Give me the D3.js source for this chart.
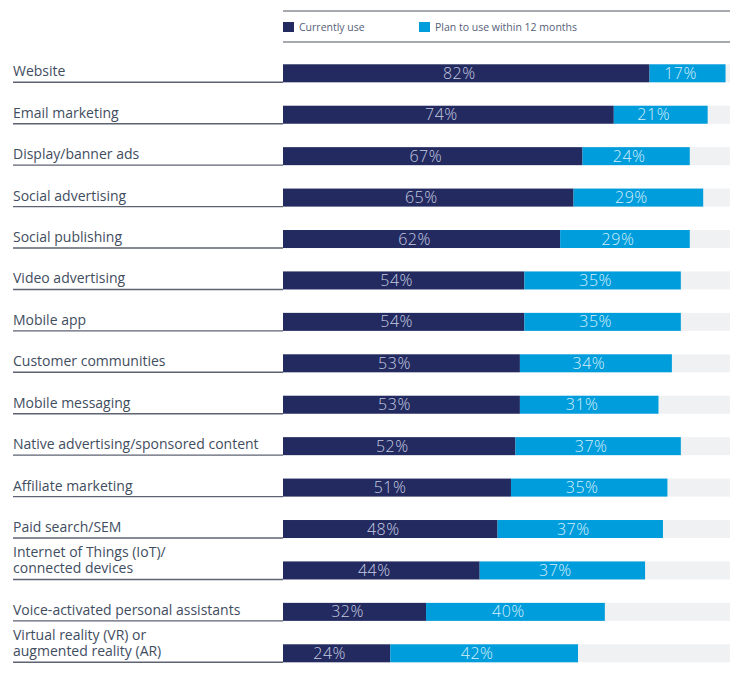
<!DOCTYPE html>
<html>
<head>
<meta charset="utf-8">
<script src="https://cdn.jsdelivr.net/npm/d3@7"></script>
<style>
  body { margin: 0; background: #fff; }
  svg { display: block; font-family: "Open Sans", sans-serif; }
</style>
</head>
<body>
<div id="chart"></div>
<script>
// 항목 이름 (줄바꿈은 배열로)
const categories = [
    ['Website'],
    ['Email marketing'],
    ['Display/banner ads'],
    ['Social advertising'],
    ['Social publishing'],
    ['Video advertising'],
    ['Mobile app'],
    ['Customer communities'],
    ['Mobile messaging'],
    ['Native advertising/sponsored content'],
    ['Affiliate marketing'],
    ['Paid search/SEM'],
    ['Internet of Things (IoT)/', 'connected devices'],
    ['Voice-activated personal assistants'],
    ['Virtual reality (VR) or', 'augmented reality (AR)']
];
const currentlyUse = [82, 74, 67, 65, 62, 54, 54, 53, 53, 52, 51, 48, 44, 32, 24];
const planToUse = [17, 21, 24, 29, 29, 35, 35, 34, 31, 37, 35, 37, 37, 40, 42];
const seriesNames = ['Currently use', 'Plan to use within 12 months'];

const width = 750, height = 683;
const navy = '#232a5f', blue = '#009ddc', track = '#f0f1f3';
const labelColor = '#3f4d60', ruleColor = '#5d6372';

const svg = d3.select('#chart').append('svg')
    .attr('width', width)
    .attr('height', height);

// x: 0~100% -> 막대 영역
const x = d3.scaleLinear().domain([0, 100]).range([283, 730]);
// y: 각 행의 밑줄(막대 아래쪽) 위치
const keys = categories.map((d, i) => i);
const y = d3.scalePoint().domain(keys).range([82.3, 662.3]);
const barH = 18;

// 범례
svg.append('line').attr('x1', 283).attr('x2', 730).attr('y1', 11).attr('y2', 11)
    .attr('stroke', '#8a8d96').attr('stroke-width', 1.3);
svg.append('line').attr('x1', 283).attr('x2', 730).attr('y1', 42).attr('y2', 42)
    .attr('stroke', '#8a8d96').attr('stroke-width', 1.3);
const legendX = [283, 419];
seriesNames.forEach((name, i) => {
    const g = svg.append('g').attr('transform', `translate(${legendX[i]},22)`);
    g.append('rect').attr('width', 11).attr('height', 10).attr('fill', i ? blue : navy);
    g.append('text').attr('x', 16).attr('y', 8.5)
        .attr('font-size', 10.5).attr('fill', '#56607a').text(name);
});

const rows = svg.selectAll('.row')
    .data(keys)
    .join('g')
    .attr('class', 'row')
    .attr('transform', i => `translate(0,${y(i)})`);

// 밑줄
rows.append('line')
    .attr('x1', 13).attr('x2', 283)
    .attr('stroke', ruleColor).attr('stroke-width', 1.4);

// 라벨
rows.append('text')
    .attr('x', 13)
    .attr('font-size', 14)
    .attr('fill', labelColor)
    .each(function(i) {
        const lines = categories[i];
        const t = d3.select(this);
        lines.forEach((line, k) => {
            t.append('tspan')
                .attr('x', 13)
                .attr('y', -6 - (lines.length - 1 - k) * 16)
                .text(line);
        });
    });

// 배경 트랙
rows.append('rect')
    .attr('x', x(0)).attr('y', -barH)
    .attr('width', x(100) - x(0)).attr('height', barH)
    .attr('fill', track);

// 현재 사용
rows.append('rect')
    .attr('x', x(0)).attr('y', -barH)
    .attr('width', i => x(currentlyUse[i]) - x(0)).attr('height', barH)
    .attr('fill', navy);

// 12개월 내 계획
rows.append('rect')
    .attr('x', i => x(currentlyUse[i])).attr('y', -barH)
    .attr('width', i => x(currentlyUse[i] + planToUse[i]) - x(currentlyUse[i])).attr('height', barH)
    .attr('fill', blue);

// 값 라벨
rows.append('text')
    .attr('x', i => (x(0) + x(currentlyUse[i])) / 2 - 7)
    .attr('y', -barH / 2 + 5.5)
    .attr('text-anchor', 'middle')
    .attr('font-size', 16)
    .attr('font-weight', 300)
    .attr('letter-spacing', 0.5)
    .attr('fill', '#c5cbe0')
    .text(i => currentlyUse[i] + '%');

rows.append('text')
    .attr('x', i => (x(currentlyUse[i]) + x(currentlyUse[i] + planToUse[i])) / 2 - 7)
    .attr('y', -barH / 2 + 5.5)
    .attr('text-anchor', 'middle')
    .attr('font-size', 16)
    .attr('font-weight', 300)
    .attr('letter-spacing', 0.5)
    .attr('fill', '#d6eefa')
    .text(i => planToUse[i] + '%');
</script>
</body>
</html>
